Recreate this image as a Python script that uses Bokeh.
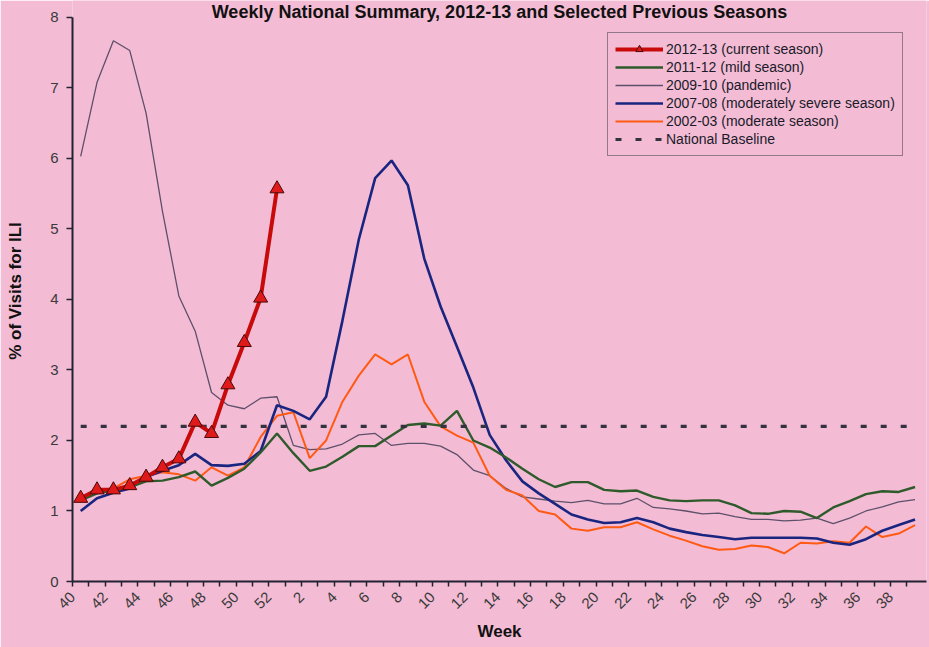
import math
from bokeh.plotting import figure
from bokeh.models import Range1d, FixedTicker, Label, Legend, LegendItem
from bokeh.embed import file_html
from bokeh.resources import INLINE

# ---- data -------------------------------------------------------------
weeks = list(range(40, 53)) + list(range(1, 40))

season_2012_13 = [1.18, 1.30, 1.30, 1.36, 1.48, 1.62, 1.74, 2.26, 2.10, 2.79,
                  3.39, 4.02, 5.57]

season_2011_12 = [1.15, 1.25, 1.29, 1.34, 1.42, 1.43, 1.48, 1.56, 1.36, 1.47,
                  1.60, 1.83, 2.10, 1.82, 1.57, 1.63, 1.77, 1.92, 1.92, 2.07,
                  2.22, 2.24, 2.21, 2.42, 2.00, 1.90, 1.76, 1.60, 1.45, 1.34,
                  1.41, 1.41, 1.30, 1.28, 1.29, 1.20, 1.15, 1.14, 1.15, 1.15,
                  1.08, 0.97, 0.96, 1.00, 0.99, 0.90, 1.05, 1.14, 1.24, 1.28,
                  1.27, 1.34]

season_2009_10 = [6.03, 7.08, 7.67, 7.53, 6.64, 5.25, 4.05, 3.55, 2.68, 2.50,
                  2.45, 2.60, 2.62, 1.93, 1.87, 1.88, 1.95, 2.08, 2.10, 1.93,
                  1.96, 1.96, 1.92, 1.80, 1.58, 1.50, 1.32, 1.20, 1.17, 1.14,
                  1.12, 1.15, 1.10, 1.10, 1.18, 1.05, 1.03, 1.00, 0.96, 0.97,
                  0.92, 0.88, 0.88, 0.86, 0.87, 0.90, 0.82, 0.90, 1.00, 1.06,
                  1.13, 1.16]

season_2007_08 = [1.00, 1.18, 1.26, 1.32, 1.48, 1.57, 1.65, 1.81, 1.65, 1.64,
                  1.67, 1.85, 2.50, 2.42, 2.30, 2.62, 3.70, 4.85, 5.72, 5.97,
                  5.62, 4.58, 3.90, 3.33, 2.75, 2.08, 1.72, 1.42, 1.25, 1.10,
                  0.95, 0.88, 0.83, 0.84, 0.90, 0.84, 0.75, 0.70, 0.66, 0.63,
                  0.60, 0.62, 0.62, 0.62, 0.62, 0.61, 0.55, 0.52, 0.60, 0.72,
                  0.80, 0.88]

season_2002_03 = [1.18, 1.30, 1.32, 1.45, 1.50, 1.55, 1.52, 1.43, 1.62, 1.50,
                  1.62, 2.05, 2.35, 2.40, 1.75, 2.00, 2.55, 2.92, 3.22, 3.08,
                  3.22, 2.55, 2.20, 2.07, 1.97, 1.50, 1.30, 1.22, 1.00, 0.95,
                  0.75, 0.72, 0.77, 0.77, 0.84, 0.74, 0.65, 0.58, 0.50, 0.45,
                  0.46, 0.51, 0.49, 0.40, 0.55, 0.54, 0.57, 0.55, 0.78, 0.63,
                  0.68, 0.80]

national_baseline = 2.2
y_ticks = list(range(0, 9))

labels = {
    "s1213": "2012-13 (current season)",
    "s1112": "2011-12 (mild season)",
    "s0910": "2009-10 (pandemic)",
    "s0708": "2007-08 (moderately severe season)",
    "s0203": "2002-03 (moderate season)",
    "base": "National Baseline",
}
title_text = "Weekly National Summary, 2012-13 and Selected Previous Seasons"

# ---- figure -----------------------------------------------------------
PINK = "#f3bcd4"
FONT = "Liberation Sans"
n = len(weeks)
xs = [i + 0.5 for i in range(n)]
y_top = 8.24   # a little headroom above 8 for the title

p = figure(width=929, height=647, output_backend="svg", toolbar_location=None,
           x_range=Range1d(0, 52.2), y_range=Range1d(0, y_top),
           min_border_left=72, min_border_right=3, min_border_top=0,
           min_border_bottom=66, background_fill_color=PINK,
           border_fill_color=PINK, outline_line_color=None)
p.grid.visible = False

r_0910 = p.line(xs, season_2009_10, line_color="#5e4f6a", line_width=1.3)
r_0203 = p.line(xs, season_2002_03, line_color="#ff5a14", line_width=2)
r_0708 = p.line(xs, season_2007_08, line_color="#1a2580", line_width=2.6)
r_1112 = p.line(xs, season_2011_12, line_color="#2f5a2c", line_width=2.4)
r_base = p.line(xs, [national_baseline] * n, line_color="#333340",
                line_width=3.2, line_dash="6 14")
x_cur = xs[:len(season_2012_13)]
r_1213 = p.line(x_cur, season_2012_13, line_color="#c80a0a", line_width=4)
r_1213p = p.scatter(x_cur, season_2012_13, marker="triangle", size=14,
                    fill_color="#e01a1a", line_color="#4a0808", line_width=1)

legend = Legend(items=[
    LegendItem(label=labels["s1213"], renderers=[r_1213, r_1213p]),
    LegendItem(label=labels["s1112"], renderers=[r_1112]),
    LegendItem(label=labels["s0910"], renderers=[r_0910]),
    LegendItem(label=labels["s0708"], renderers=[r_0708]),
    LegendItem(label=labels["s0203"], renderers=[r_0203]),
    LegendItem(label=labels["base"], renderers=[r_base]),
], location=(535, 425), padding=7, spacing=0,
    label_height=18, glyph_height=18, glyph_width=48, label_standoff=3,
    label_text_font=FONT, label_text_font_size="14px",
    label_text_color="#1a1a2a",
    border_line_color="#333344", border_line_width=1,
    background_fill_color=PINK, background_fill_alpha=1.0)
p.add_layout(legend)

# x axis
xa = p.xaxis[0]
xa.ticker = FixedTicker(ticks=list(range(0, n, 2)),
                        minor_ticks=list(range(1, n, 2)))
xa.major_label_overrides = {i: str(weeks[i]) for i in range(0, n, 2)}
xa.major_label_orientation = math.pi / 4
xa.major_tick_in = 0
xa.major_tick_out = 5
xa.minor_tick_in = 0
xa.minor_tick_out = 5
xa.major_label_standoff = 8
xa.axis_label = "Week"
xa.axis_label_standoff = 6

# y axis
ya = p.yaxis[0]
ya.ticker = FixedTicker(ticks=y_ticks, minor_ticks=[])
ya.bounds = (y_ticks[0], y_ticks[-1])
ya.major_tick_in = 0
ya.major_tick_out = 6
ya.major_label_standoff = 8
ya.axis_label = "% of Visits for ILI"
ya.axis_label_standoff = 22

for ax in (xa, ya):
    ax.axis_line_color = "#222233"
    ax.axis_line_width = 2
    ax.major_tick_line_color = "#222233"
    ax.minor_tick_line_color = "#222233"
    ax.major_tick_line_width = 1.5
    ax.minor_tick_line_width = 1.5
    ax.major_label_text_font = FONT
    ax.major_label_text_font_size = "15px"
    ax.major_label_text_color = "#3a3a3a"
    ax.axis_label_text_font = FONT
    ax.axis_label_text_font_size = "17px"
    ax.axis_label_text_font_style = "bold"
    ax.axis_label_text_color = "#111111"

title = Label(x=(p.x_range.start + p.x_range.end) / 2, y=y_top,
              y_offset=-1, text=title_text, text_align="center",
              text_baseline="top", text_font=FONT,
              text_font_size="18px", text_font_style="bold",
              text_color="#111111")
p.add_layout(title)

open("out.html", "w").write(file_html(p, INLINE))
